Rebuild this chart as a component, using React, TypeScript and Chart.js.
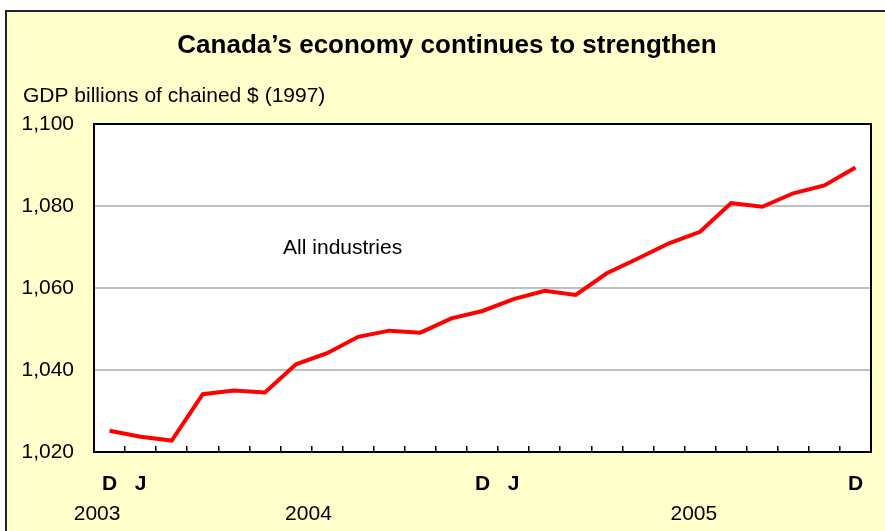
import React, { useEffect, useRef } from 'react';
import { Chart, registerables } from 'chart.js';

Chart.register(...registerables);

// ---- data ----
const months = [
  'Dec 2003', 'Jan 2004', 'Feb 2004', 'Mar 2004', 'Apr 2004', 'May 2004', 'Jun 2004',
  'Jul 2004', 'Aug 2004', 'Sep 2004', 'Oct 2004', 'Nov 2004', 'Dec 2004',
  'Jan 2005', 'Feb 2005', 'Mar 2005', 'Apr 2005', 'May 2005', 'Jun 2005',
  'Jul 2005', 'Aug 2005', 'Sep 2005', 'Oct 2005', 'Nov 2005', 'Dec 2005',
];
const monthTickLabels = [
  'D', 'J', '', '', '', '', '', '', '', '', '', '', 'D',
  'J', '', '', '', '', '', '', '', '', '', '', 'D',
];
const gdpAllIndustries = [
  1025.2, 1023.7, 1022.8, 1034.1, 1035.0, 1034.5, 1041.4, 1044.1, 1048.1, 1049.6,
  1049.1, 1052.6, 1054.4, 1057.3, 1059.3, 1058.3, 1063.6, 1067.2, 1070.9, 1073.7,
  1080.7, 1079.8, 1083.1, 1085.0, 1089.4,
];
const yearLabels = ['2003', '2004', '2005'];
const yearLabelAt = [-0.4, 6.4, 18.8];
const yMin = 1020;
const yMax = 1100;
const yStep = 20;
const titleText = 'Canada\u2019s economy continues to strengthen';
const yUnitText = 'GDP billions of chained $ (1997)';
const seriesLabel = 'All industries';
const seriesLabelAt = { x: 7.5, y: 1069.8 };

const FONT = '"Liberation Sans", Arial, Helvetica, sans-serif';

const plotFrame = {
  id: 'plotFrame',
  beforeDraw(chart: any) {
    const { ctx, chartArea: a } = chart;
    ctx.save();
    ctx.fillStyle = '#FFFFFF';
    ctx.fillRect(a.left, a.top, a.right - a.left, a.bottom - a.top);
    ctx.restore();
  },
  afterDatasetsDraw(chart: any) {
    const { ctx, chartArea: a, scales } = chart;
    ctx.save();
    ctx.strokeStyle = '#000000';
    ctx.lineWidth = 2;
    ctx.strokeRect(a.left, a.top, a.right - a.left, a.bottom - a.top);
    ctx.fillStyle = '#000000';
    ctx.font = `21px ${FONT}`;
    ctx.textAlign = 'center';
    ctx.textBaseline = 'middle';
    ctx.fillText(
      seriesLabel,
      scales.x.getPixelForValue(seriesLabelAt.x),
      scales.y.getPixelForValue(seriesLabelAt.y)
    );
    ctx.restore();
  },
};

export default function App() {
  const ref = useRef<HTMLCanvasElement | null>(null);

  useEffect(() => {
    if (!ref.current) return;
    const chart = new Chart(ref.current, {
      type: 'line',
      data: {
        labels: months,
        datasets: [
          {
            label: seriesLabel,
            data: gdpAllIndustries,
            borderColor: '#FF0000',
            borderWidth: 4,
            pointRadius: 0,
            tension: 0,
            fill: false,
            xAxisID: 'x',
            yAxisID: 'y',
          },
        ],
      },
      options: {
        responsive: false,
        animation: false,
        layout: { padding: { left: 23, right: 14, top: 0, bottom: 4.4 } },
        plugins: {
          legend: { display: false },
          tooltip: { enabled: false },
          title: {
            display: true,
            text: titleText,
            color: '#000000',
            font: { family: FONT, size: 26, weight: 'bold' },
            padding: { top: 30, bottom: 0 },
          },
          subtitle: {
            display: true,
            text: yUnitText,
            align: 'start',
            color: '#000000',
            font: { family: FONT, size: 21 },
            padding: { top: 22.2, bottom: 15.4 },
          },
        },
        scales: {
          x: {
            type: 'category',
            position: 'bottom',
            offset: true,
            weight: 0,
            grid: {
              offset: true,
              drawOnChartArea: false,
              drawTicks: true,
              tickLength: -6,
              color: '#000000',
              lineWidth: 1.5,
            },
            border: { display: false },
            ticks: {
              autoSkip: false,
              maxRotation: 0,
              minRotation: 0,
              padding: 26,
              color: '#000000',
              font: { family: FONT, size: 21, weight: 'bold' },
              callback: (_v: any, i: number) => monthTickLabels[i],
            },
            afterFit: (s: any) => {
              s.height = 45.2;
              s.paddingLeft = 0;
              s.paddingRight = 0;
            },
          },
          x2: {
            type: 'linear',
            position: 'bottom',
            weight: 1,
            min: -0.5,
            max: 24.5,
            grid: { display: false, drawTicks: false },
            border: { display: false },
            afterBuildTicks: (s: any) => {
              s.ticks = yearLabelAt.map((v) => ({ value: v }));
            },
            ticks: {
              autoSkip: false,
              maxRotation: 0,
              minRotation: 0,
              padding: 4.2,
              color: '#000000',
              font: { family: FONT, size: 21 },
              callback: (v: any) => {
                const k = yearLabelAt.indexOf(Number(v));
                return k >= 0 ? yearLabels[k] : '';
              },
            },
            afterFit: (s: any) => {
              s.height = 29.4;
              s.paddingLeft = 0;
              s.paddingRight = 0;
            },
          },
          y: {
            min: yMin,
            max: yMax,
            grid: { color: '#C0C0C0', lineWidth: 2, drawTicks: false },
            border: { display: false },
            ticks: {
              stepSize: yStep,
              padding: 20,
              color: '#000000',
              font: { family: FONT, size: 21 },
              callback: (v: any) => Number(v).toLocaleString('en-US'),
            },
            afterFit: (s: any) => {
              s.width = 71;
            },
          },
        },
      },
      plugins: [plotFrame],
    } as any);
    return () => chart.destroy();
  }, []);

  return (
    <div
      style={{
        position: 'fixed',
        left: 0,
        top: 0,
        width: 885,
        height: 531,
        overflow: 'hidden',
        background: '#FFFFFF',
      }}
    >
      <div
        style={{
          position: 'absolute',
          left: 5,
          top: 10,
          width: 1000,
          height: 1000,
          background: '#FFFFCC',
          border: '2px solid #222222',
        }}
      />
      <canvas
        ref={ref}
        width={885}
        height={531}
        style={{ position: 'absolute', left: 0, top: 0, display: 'block' }}
      />
    </div>
  );
}
